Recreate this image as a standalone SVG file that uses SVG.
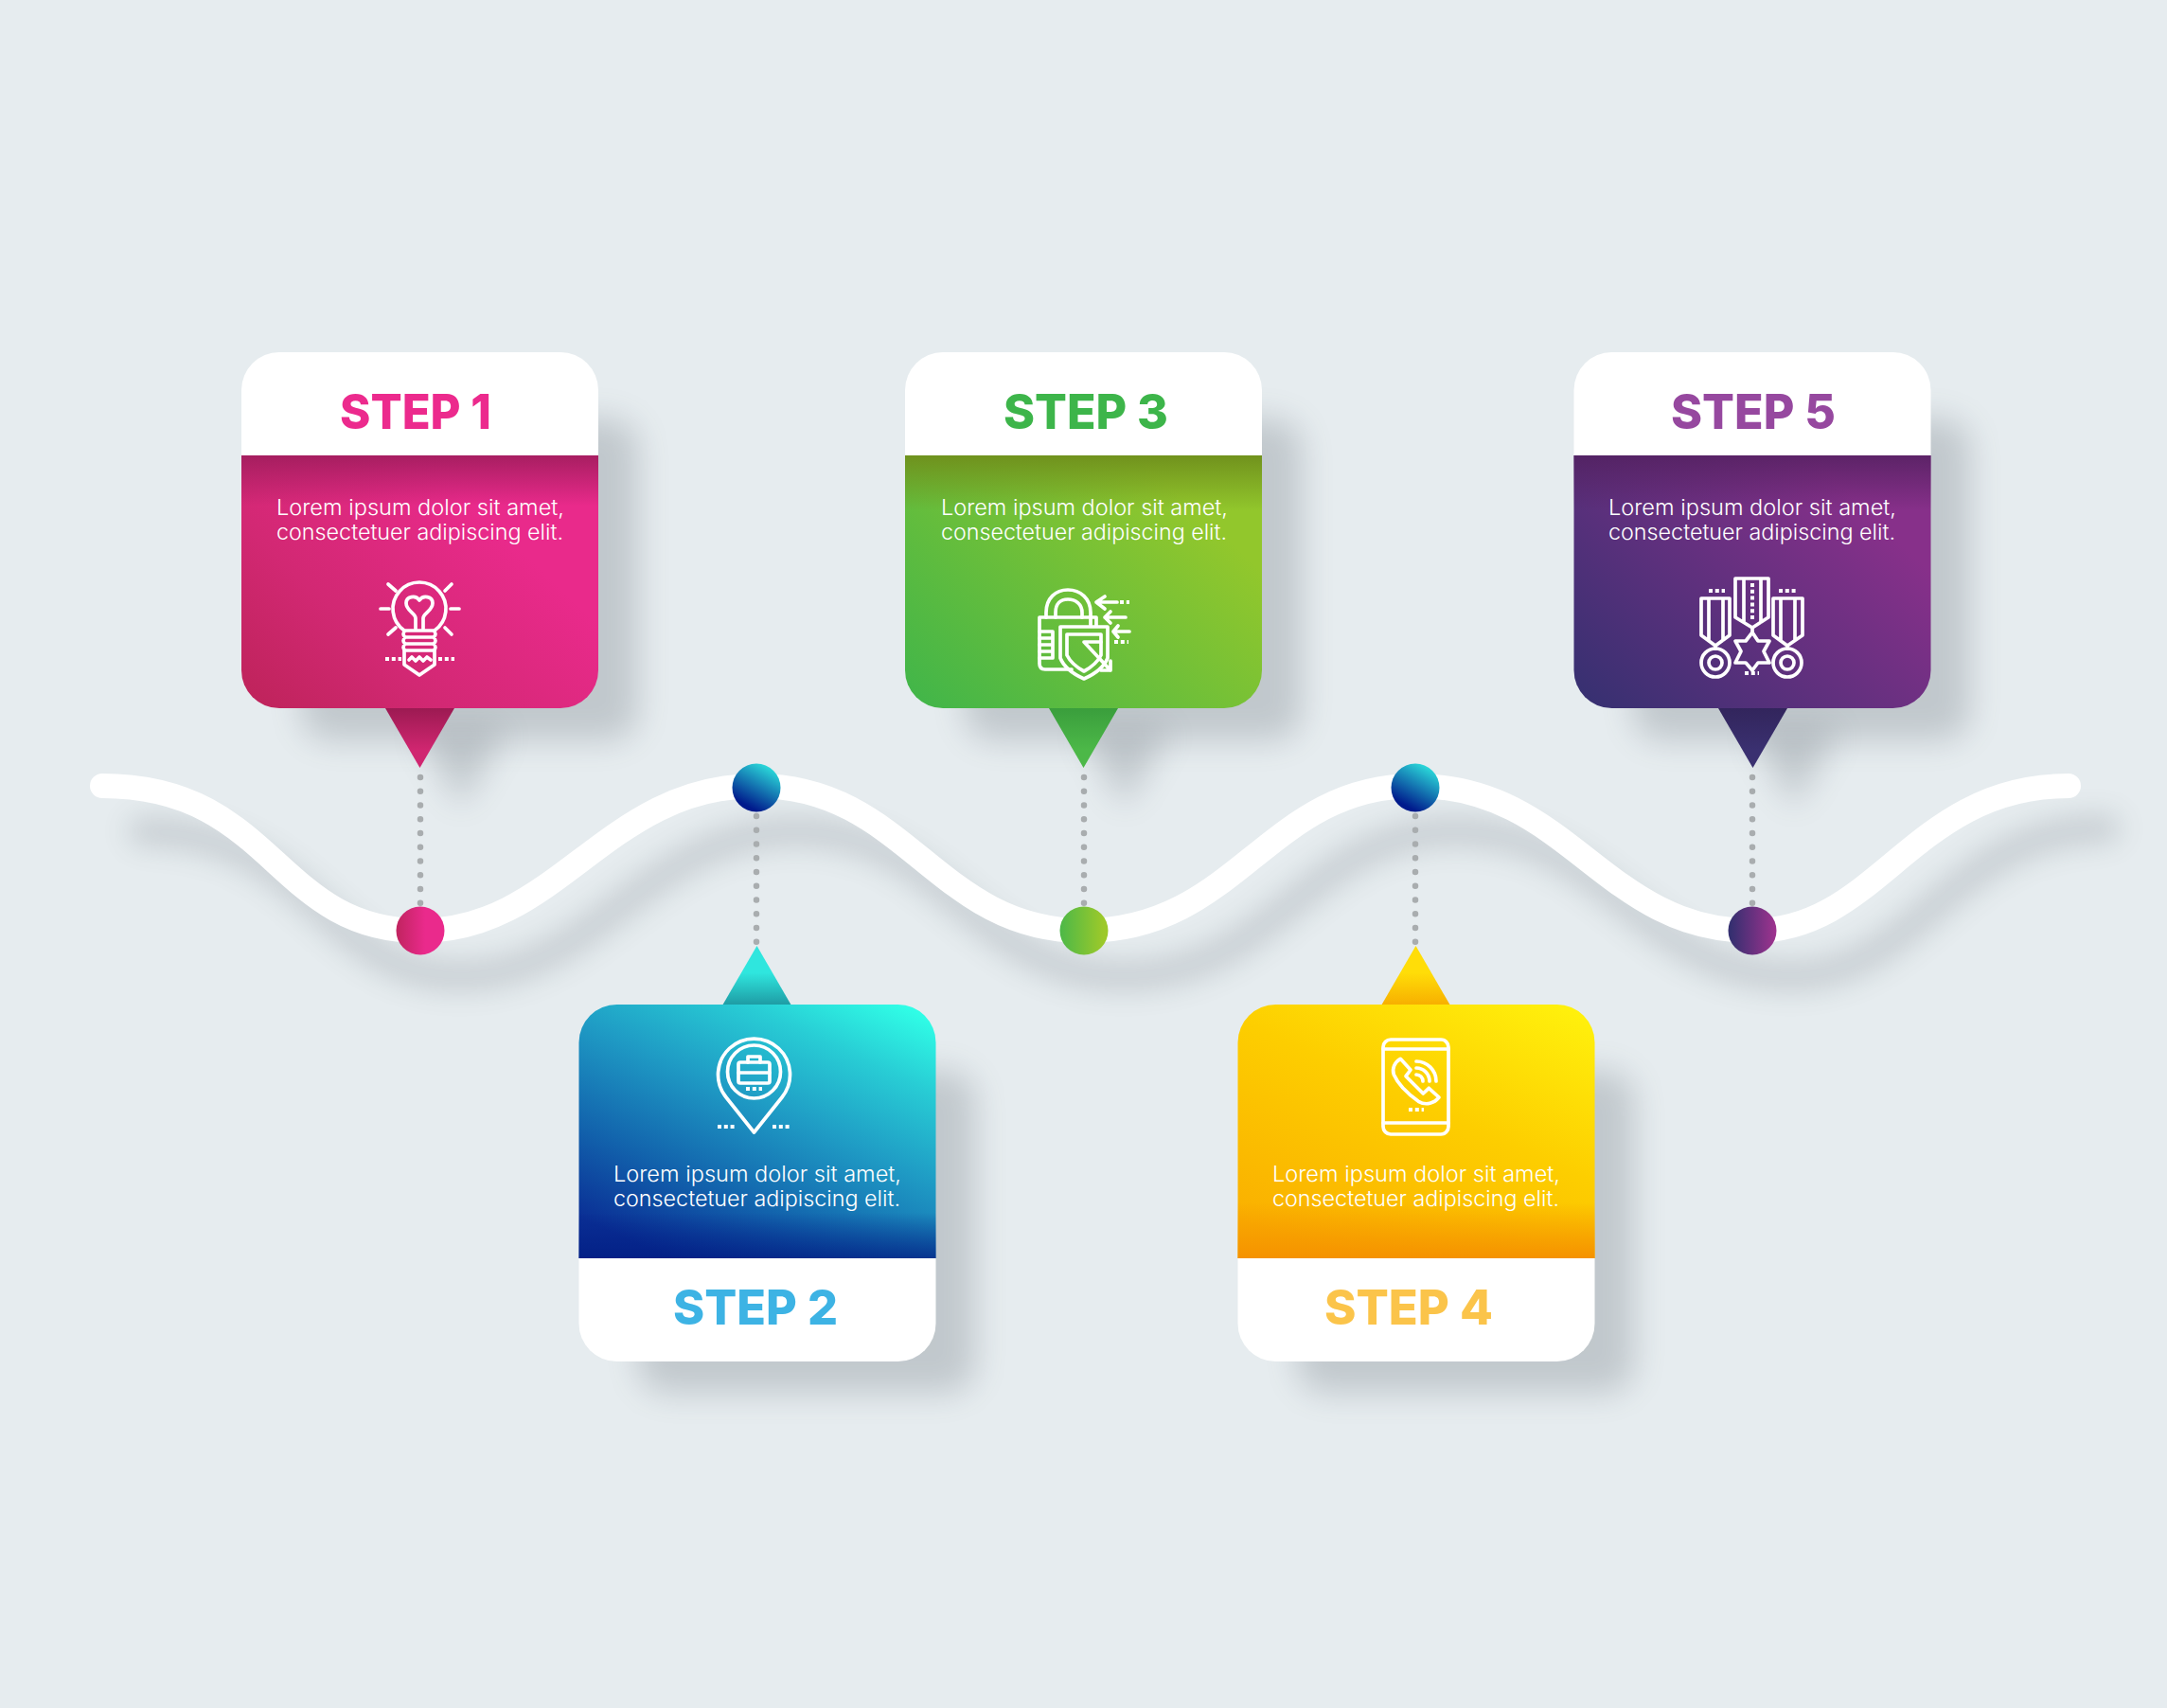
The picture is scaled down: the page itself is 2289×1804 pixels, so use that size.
<svg xmlns="http://www.w3.org/2000/svg" xmlns:xlink="http://www.w3.org/1999/xlink" width="2289" height="1804" viewBox="0 0 2289 1804">
<style>
.title{font-family:"Inter","Liberation Sans",sans-serif;font-weight:800;font-size:51px}
.body{font-family:"Inter","Liberation Sans",sans-serif;font-weight:300;font-size:22.500px;fill:#fff}
.ic{fill:none;stroke:#fff;stroke-width:3.700;stroke-linejoin:round;stroke-linecap:round}
.dot{fill:none;stroke:#fff;stroke-width:4;stroke-dasharray:4 2.800}
.dash{fill:none;stroke:#a9adaf;stroke-width:6.500;stroke-linecap:round;stroke-dasharray:0 14.750}
.sh{fill:#3a4550;opacity:.21;filter:url(#bl)}
.shc{fill:none;stroke:#3a4550;stroke-width:30;opacity:.18;stroke-linecap:round;filter:url(#bl2)}
</style>
<defs>
<filter id="bl" x="-30%" y="-30%" width="160%" height="160%"><feGaussianBlur stdDeviation="17"/></filter>
<filter id="bl2" filterUnits="userSpaceOnUse" x="0" y="700" width="2289" height="500"><feGaussianBlur stdDeviation="15"/></filter>
<path id="top" d="M0 109V40A40 40 0 0 1 40 0H337A40 40 0 0 1 377 40V109Z"/>
<path id="low" d="M0 109H377V336A40 40 0 0 1 337 376H40A40 40 0 0 1 0 336Z"/>
<path id="upb" d="M0 268V40A40 40 0 0 1 40 0H337A40 40 0 0 1 377 40V268Z"/>
<path id="ftr" d="M0 268H377V337A40 40 0 0 1 337 377H40A40 40 0 0 1 0 337Z"/>
<linearGradient id="c1" x1="0" y1="1" x2="1" y2=".25"><stop offset="0" stop-color="#bd2359"/><stop offset=".35" stop-color="#d22873"/><stop offset=".8" stop-color="#e92a8b"/></linearGradient>
<linearGradient id="c3" x1="0" y1="1" x2="1" y2=".25"><stop offset="0" stop-color="#3fb54a"/><stop offset=".9" stop-color="#92c72c"/></linearGradient>
<linearGradient id="c5" x1="0" y1="1" x2="1" y2=".25"><stop offset="0" stop-color="#343070"/><stop offset=".9" stop-color="#87308a"/></linearGradient>
<linearGradient id="c2" x1=".25" y1="1" x2=".9" y2="0"><stop offset="0" stop-color="#0a2f95"/><stop offset=".25" stop-color="#1262ac"/><stop offset=".55" stop-color="#1f9cc5"/><stop offset=".8" stop-color="#28cdd5"/><stop offset="1" stop-color="#30fde6"/></linearGradient>
<linearGradient id="c4" x1=".25" y1="1" x2=".9" y2="0"><stop offset="0" stop-color="#fab000"/><stop offset=".55" stop-color="#fdce00"/><stop offset="1" stop-color="#fff00c"/></linearGradient>
<linearGradient id="s1" x1="0" y1="0" x2="0" y2="1"><stop offset="0" stop-color="#9c1c5a" stop-opacity=".85"/><stop offset=".2" stop-color="#9c1c5a" stop-opacity="0"/></linearGradient>
<linearGradient id="s3" x1="0" y1="0" x2="0" y2="1"><stop offset="0" stop-color="#6f8f1c" stop-opacity=".95"/><stop offset=".22" stop-color="#6f8f1c" stop-opacity="0"/></linearGradient>
<linearGradient id="s5" x1="0" y1="0" x2="0" y2="1"><stop offset="0" stop-color="#4e1f5c" stop-opacity=".75"/><stop offset=".22" stop-color="#4e1f5c" stop-opacity="0"/></linearGradient>
<linearGradient id="s2" x1="0" y1="1" x2="0" y2="0"><stop offset="0" stop-color="#001a80" stop-opacity=".7"/><stop offset=".18" stop-color="#001a80" stop-opacity="0"/></linearGradient>
<linearGradient id="s4" x1="0" y1="1" x2="0" y2="0"><stop offset="0" stop-color="#f59200"/><stop offset=".22" stop-color="#f59200" stop-opacity="0"/></linearGradient>
<linearGradient id="t1" x1="0" y1="0" x2="0" y2="1"><stop offset="0" stop-color="#9c1a52"/><stop offset=".7" stop-color="#d02670"/></linearGradient>
<linearGradient id="t3" x1="0" y1="0" x2="0" y2="1"><stop offset="0" stop-color="#3a9e3c"/><stop offset=".7" stop-color="#4cb848"/></linearGradient>
<linearGradient id="t5" x1="0" y1="0" x2="0" y2="1"><stop offset="0" stop-color="#32255c"/><stop offset=".7" stop-color="#3a3070"/></linearGradient>
<linearGradient id="t2" x1="0" y1="1" x2="0" y2="0"><stop offset="0" stop-color="#1e9aa3"/><stop offset=".55" stop-color="#2fe6de"/></linearGradient>
<linearGradient id="t4" x1="0" y1="1" x2="0" y2="0"><stop offset="0" stop-color="#f7ae00"/><stop offset=".55" stop-color="#ffdd08"/></linearGradient>
<linearGradient id="b1"><stop offset="0" stop-color="#c0245f"/><stop offset=".6" stop-color="#ea2a8c"/></linearGradient>
<linearGradient id="b3"><stop offset="0" stop-color="#4cb848"/><stop offset=".9" stop-color="#9cc92a"/></linearGradient>
<linearGradient id="b5"><stop offset=".05" stop-color="#352f70"/><stop offset="1" stop-color="#a0338f"/></linearGradient>
<linearGradient id="b2" x1=".3" y1="1" x2=".85" y2="0"><stop offset=".1" stop-color="#001a8c"/><stop offset="1" stop-color="#2feee2"/></linearGradient>
</defs>
<rect width="2289" height="1804" fill="#e6ecef"/>
<g id="connectors">
<path class="shc" d="M150 878C332 878 342 1031 486 1031C632 1031 682 878 841 878C1000 878 1030 1031 1187 1031C1350 1031 1380 878 1537 878C1700 878 1735 1031 1893 1031C2027 1031 2062 875 2225 875"/>
<path d="M108 830C290 830 290 983 444 983C590 983 640 830 799 830C958 830 988 983 1145 983C1308 983 1338 830 1495 830C1658 830 1693 983 1851 983C1985 983 2020 830 2185 830" fill="none" stroke="#fff" stroke-width="26" stroke-linecap="round"/>
<path class="dash" d="M444 821V956"/>
<path class="dash" d="M799 862V997"/>
<path class="dash" d="M1145 821V956"/>
<path class="dash" d="M1495 862V997"/>
<path class="dash" d="M1851 821V956"/>
<circle cx="444" cy="983" r="25.500" fill="url(#b1)"/>
<circle cx="799" cy="832" r="25.500" fill="url(#b2)"/>
<circle cx="1145" cy="983" r="25.500" fill="url(#b3)"/>
<circle cx="1495" cy="832" r="25.500" fill="url(#b2)"/>
<circle cx="1851" cy="983" r="25.500" fill="url(#b5)"/>
</g>
<g id="step1">
<rect class="sh" x="318" y="442" width="356" height="340" rx="30"/>
<path class="sh" d="M440 770H535L487 852Z"/>
<path d="M407 748H480L443.500 811Z" fill="url(#t1)"/>
<g transform="translate(255 372)"><use xlink:href="#top" fill="#fff"/><use xlink:href="#low" fill="url(#c1)"/><use xlink:href="#low" fill="url(#s1)"/></g>
<text class="title" x="359" y="453" fill="#ec2a8d" textLength="160" lengthAdjust="spacingAndGlyphs">STEP 1</text>
<text class="body" x="292" y="544" textLength="304" lengthAdjust="spacingAndGlyphs">Lorem ipsum dolor sit amet,</text>
<text class="body" x="292" y="570" textLength="303" lengthAdjust="spacingAndGlyphs">consectetuer adipiscing elit.</text>
<g id="icon1">
<path class="ic" d="M410 617L418 624M477 617L470 624M402 643H411M476 643H485M410 670L418 663M477 670L470 663"/>
<path class="ic" d="M427 666A28 28 0 1 1 459 666"/>
<path class="ic" d="M439 664V653C439 648 429 645 429 637C429 630 439 628 443 634C447 628 457 630 457 637C457 645 447 648 447 653V664"/>
<path class="ic" d="M428 666H458Q462 670 458 673H428Q424 670 428 666ZM428 673H458Q462 677 458 680H428Q424 677 428 673ZM428 680H458Q462 684 458 687H428Q424 684 428 680Z" stroke-width="3"/>
<path class="ic" d="M427 687V702L443 713L459 702V687"/>
<path class="ic" stroke-width="2.400" d="M432 697L435 694L439 698L443 694L447 698L451 694L455 697"/>
<path class="dot" d="M407 696H424M463 696H480"/>
</g>
</g>
<g id="step3">
<rect class="sh" x="1019" y="442" width="356" height="340" rx="30"/>
<path class="sh" d="M1141 770H1236L1188 852Z"/>
<path d="M1108 748H1181L1144.500 811Z" fill="url(#t3)"/>
<g transform="translate(956 372)"><use xlink:href="#top" fill="#fff"/><use xlink:href="#low" fill="url(#c3)"/><use xlink:href="#low" fill="url(#s3)"/></g>
<text class="title" x="1060" y="453" fill="#3db54a" textLength="174" lengthAdjust="spacingAndGlyphs">STEP 3</text>
<text class="body" x="994" y="544" textLength="303" lengthAdjust="spacingAndGlyphs">Lorem ipsum dolor sit amet,</text>
<text class="body" x="994" y="570" textLength="302" lengthAdjust="spacingAndGlyphs">consectetuer adipiscing elit.</text>
<g id="icon3">
<path class="ic" d="M1105 652V647C1105 632 1115 623 1128 623C1141 623 1152 632 1152 647V660M1115 652V647C1115 638 1120 633 1128 633C1136 633 1143 638 1143 647V652"/>
<path class="ic" d="M1132 707H1104Q1098 707 1098 701V652H1158V661"/>
<path class="ic" stroke-width="3" d="M1098 667H1112V695H1098M1098 674H1112M1098 681H1112M1098 688H1112"/>
<path class="ic" d="M1120 662H1170V695Q1165 708 1145 717Q1125 708 1120 695Z"/>
<path class="ic" d="M1127 670H1163V692Q1158 702 1145 709Q1132 702 1127 692Z"/>
<path class="ic" d="M1163 678H1145L1173 708M1173 698V708H1163"/>
<path class="dot" d="M1177 678H1192M1183 636H1193"/>
<path class="ic" d="M1167 630L1158 636L1167 643M1158 636H1180M1173 646L1167 652L1173 658M1167 652H1189M1181 661L1176 667L1181 673M1176 667H1193"/>
</g>
</g>
<g id="step5">
<rect class="sh" x="1725" y="442" width="356" height="340" rx="30"/>
<path class="sh" d="M1848 770H1943L1895 852Z"/>
<path d="M1815 748H1888L1851.500 811Z" fill="url(#t5)"/>
<g transform="translate(1662.500 372)"><use xlink:href="#top" fill="#fff"/><use xlink:href="#low" fill="url(#c5)"/><use xlink:href="#low" fill="url(#s5)"/></g>
<text class="title" x="1765" y="453" fill="#96489f" textLength="174" lengthAdjust="spacingAndGlyphs">STEP 5</text>
<text class="body" x="1699" y="544" textLength="304" lengthAdjust="spacingAndGlyphs">Lorem ipsum dolor sit amet,</text>
<text class="body" x="1699" y="570" textLength="303" lengthAdjust="spacingAndGlyphs">consectetuer adipiscing elit.</text>
<g id="icon5">
<path class="ic" d="M1833 611H1868V652L1851 663L1833 652ZM1842 611V657M1860 611V657M1851 663V668"/>
<path class="dot" d="M1851 616V656"/>
<path class="ic" d="M1851 668L1857 677H1869L1863 688L1869 700H1857L1851 708L1844 700H1833L1839 688L1833 677H1844Z" stroke-width="3.200"/>
<path class="dot" d="M1843 711H1858M1805 624H1822M1879 624H1897"/>
<path class="ic" d="M1797 632H1827V671L1812 682L1797 671ZM1805 632V676M1820 632V676M1812 682V685"/>
<circle class="ic" cx="1812" cy="700" r="15"/><circle class="ic" cx="1812" cy="700" r="7"/>
<path class="ic" d="M1873 632H1904V671L1888 682L1873 671ZM1881 632V676M1896 632V676M1888 682V685"/>
<circle class="ic" cx="1888" cy="700" r="15"/><circle class="ic" cx="1888" cy="700" r="7"/>
</g>
</g>
<g id="step2">
<rect class="sh" x="674" y="1131" width="356" height="340" rx="30"/>
<path d="M763 1062H836L799.500 999Z" fill="url(#t2)"/>
<g transform="translate(611.500 1061)"><use xlink:href="#upb" fill="url(#c2)"/><use xlink:href="#upb" fill="url(#s2)"/><use xlink:href="#ftr" fill="#fff"/></g>
<text class="title" x="711" y="1399" fill="#3db3e4" textLength="174" lengthAdjust="spacingAndGlyphs">STEP 2</text>
<text class="body" x="648" y="1248" textLength="304" lengthAdjust="spacingAndGlyphs">Lorem ipsum dolor sit amet,</text>
<text class="body" x="648" y="1274" textLength="303" lengthAdjust="spacingAndGlyphs">consectetuer adipiscing elit.</text>
<g id="icon2">
<path class="ic" d="M796.500 1196L767 1159A38 38 0 1 1 826 1159Z"/>
<circle class="ic" cx="796.500" cy="1132" r="28"/>
<rect class="ic" x="780" y="1122" width="33" height="22" rx="2"/>
<path class="ic" d="M790 1122V1116H803V1122M780 1133H813"/>
<path class="dot" d="M788 1150H805M758 1190H776M816 1190H834"/>
</g>
</g>
<g id="step4">
<rect class="sh" x="1370" y="1131" width="356" height="340" rx="30"/>
<path d="M1459 1062H1532L1495.500 999Z" fill="url(#t4)"/>
<g transform="translate(1307.500 1061)"><use xlink:href="#upb" fill="url(#c4)"/><use xlink:href="#upb" fill="url(#s4)"/><use xlink:href="#ftr" fill="#fff"/></g>
<text class="title" x="1399" y="1399" fill="#fbc44a" textLength="178" lengthAdjust="spacingAndGlyphs">STEP 4</text>
<text class="body" x="1344" y="1248" textLength="304" lengthAdjust="spacingAndGlyphs">Lorem ipsum dolor sit amet,</text>
<text class="body" x="1344" y="1274" textLength="303" lengthAdjust="spacingAndGlyphs">consectetuer adipiscing elit.</text>
<g id="icon4">
<rect class="ic" x="1461" y="1098" width="69" height="100" rx="8"/>
<path class="ic" d="M1461 1108H1530M1461 1186H1530"/>
<path class="dot" d="M1488 1172H1504"/>
<path class="ic" d="M1479.300 1118.300L1490 1130L1485 1136.700L1503.300 1155L1509.300 1149.300L1520 1159C1515 1165 1506.700 1168.300 1498.300 1163.300C1486.700 1155 1476.700 1145 1472.300 1135C1470 1128.300 1473.300 1121.700 1479.300 1118.300Z"/>
<path class="ic" d="M1496 1121A21 21 0 0 1 1517 1142M1496 1128A14 14 0 0 1 1510 1142M1496 1135A7 7 0 0 1 1503 1142"/>
</g>
</g>
</svg>
